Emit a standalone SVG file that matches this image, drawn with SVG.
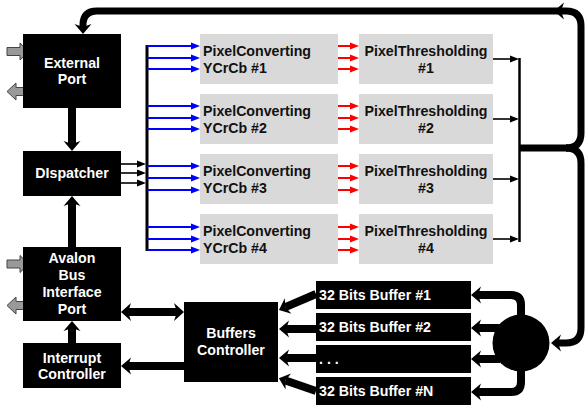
<svg xmlns="http://www.w3.org/2000/svg" width="587" height="408" viewBox="0 0 587 408">
  <style>
    .blk { fill: #000; }
    .gry { fill: #d9d9d9; }
    .wt { fill: #fff; font-family: "Liberation Sans", Arial, sans-serif; font-weight: bold; font-size: 14.2px; text-anchor: middle; }
    .wl { fill: #fff; font-family: "Liberation Sans", Arial, sans-serif; font-weight: bold; font-size: 14.2px; }
    .dk { fill: #111; font-family: "Liberation Sans", Arial, sans-serif; font-weight: bold; font-size: 14.2px; }
    .dkm { fill: #111; font-family: "Liberation Sans", Arial, sans-serif; font-weight: bold; font-size: 14.2px; text-anchor: middle; }
    .io { fill: #999; stroke: #444; stroke-width: 1; }
    .thick { fill: none; stroke: #000; stroke-width: 8; }
    .bus { fill: none; stroke: #000; stroke-width: 7; }
    .blue { fill: none; stroke: #0000ff; stroke-width: 2; marker-end: url(#hb); }
    .red { fill: none; stroke: #ff0000; stroke-width: 2; marker-end: url(#hr); }
    .thin { fill: none; stroke: #000; stroke-width: 1.6; marker-end: url(#hs); }
  </style>
  <defs>
    <!-- notched heads for the wide black links -->
    <marker id="hk" markerUnits="userSpaceOnUse" markerWidth="14" markerHeight="20" viewBox="0 -10 14 20" refX="3" refY="0" orient="auto">
      <path d="M0,-8.5 L10,0 L0,8.5 L3,0 Z" fill="#000"/>
    </marker>
    <marker id="hks" markerUnits="userSpaceOnUse" markerWidth="14" markerHeight="20" viewBox="0 -10 14 20" refX="3" refY="0" orient="auto-start-reverse">
      <path d="M0,-9 L10,0 L0,9 L3,0 Z" fill="#000"/>
    </marker>
    <!-- small heads for the signal lines -->
    <marker id="hb" markerUnits="userSpaceOnUse" markerWidth="10" markerHeight="8" viewBox="0 -4 10 8" refX="3" refY="0" orient="auto">
      <path d="M0,-3.5 L9,0 L0,3.5 Z" fill="#0000ff"/>
    </marker>
    <marker id="hr" markerUnits="userSpaceOnUse" markerWidth="10" markerHeight="8" viewBox="0 -4 10 8" refX="3" refY="0" orient="auto">
      <path d="M0,-3.5 L9,0 L0,3.5 Z" fill="#ff0000"/>
    </marker>
    <marker id="hs" markerUnits="userSpaceOnUse" markerWidth="10" markerHeight="8" viewBox="0 -4 10 8" refX="3" refY="0" orient="auto">
      <path d="M0,-3.5 L9,0 L0,3.5 Z" fill="#000"/>
    </marker>
  </defs>

  <rect width="587" height="408" fill="#fff"/>

  <g id="connectors">
    <!-- feedback bus from the threshold collector back to the external port -->
    <path class="bus" d="M519,148 H568" stroke-width="10"/>
    <path class="bus" d="M566,148 Q581,148 581,133 V26 Q581,11 566,11 H561" marker-end="url(#hk)"/>
    <path class="bus" d="M562,11 H97 Q83,11 83,25 V27" marker-end="url(#hk)"/>
    <path class="bus" d="M566,148 Q581,148 581,163 V328 Q581,343 566,343 H558" marker-end="url(#hk)"/>

    <!-- control column -->
    <path class="thick" d="M72,108 V144" marker-end="url(#hk)"/>
    <path class="thick" d="M72,247 V203" marker-end="url(#hk)"/>
    <path class="thick" d="M72,343 V328" marker-end="url(#hk)"/>
    <path class="thick" d="M128,312 H177" marker-start="url(#hks)" marker-end="url(#hks)"/>
    <path class="thick" d="M184,366 H128" marker-end="url(#hk)"/>

    <!-- buffers into the controller -->
    <path class="thick" d="M316,294 L285.4,307.2" marker-end="url(#hk)"/>
    <path class="thick" d="M316,329 H286" marker-end="url(#hk)"/>
    <path class="thick" d="M316,358 H286" marker-end="url(#hk)"/>
    <path class="thick" d="M316,391 L285.5,380.5" marker-end="url(#hk)"/>

    <!-- demultiplexer into the buffers -->
    <path class="thick" d="M521,316 V305 Q521,295 511,295 H478" marker-end="url(#hk)"/>
    <path class="thick" d="M500,328 H478" marker-end="url(#hk)"/>
    <path class="thick" d="M500,359 H478" marker-end="url(#hk)"/>
    <path class="thick" d="M521,370 V382 Q521,392 511,392 H478" marker-end="url(#hk)"/>

    <!-- dispatcher fan-out -->
    <path class="thin" d="M121,164 H140"/>
    <path class="thin" d="M121,173 H140"/>
    <path class="thin" d="M121,183 H140"/>
    <line x1="147" y1="45" x2="147" y2="251" stroke="#000" stroke-width="3"/>

    <g>
      <path class="blue" d="M147,46 H194"/>
      <path class="blue" d="M147,58 H194"/>
      <path class="blue" d="M147,69 H194"/>
      <path class="blue" d="M147,106 H194"/>
      <path class="blue" d="M147,118 H194"/>
      <path class="blue" d="M147,129 H194"/>
      <path class="blue" d="M147,166 H194"/>
      <path class="blue" d="M147,178 H194"/>
      <path class="blue" d="M147,190 H194"/>
      <path class="blue" d="M147,227 H194"/>
      <path class="blue" d="M147,239 H194"/>
      <path class="blue" d="M147,250 H194"/>
    </g>
    <g>
      <path class="red" d="M338,46 H353"/>
      <path class="red" d="M338,58 H353"/>
      <path class="red" d="M338,69 H353"/>
      <path class="red" d="M338,106 H353"/>
      <path class="red" d="M338,118 H353"/>
      <path class="red" d="M338,129 H353"/>
      <path class="red" d="M338,166 H353"/>
      <path class="red" d="M338,178 H353"/>
      <path class="red" d="M338,190 H353"/>
      <path class="red" d="M338,227 H353"/>
      <path class="red" d="M338,239 H353"/>
      <path class="red" d="M338,250 H353"/>
    </g>
    <path class="thin" d="M493,59 H513"/>
    <path class="thin" d="M493,119 H513"/>
    <path class="thin" d="M493,179 H513"/>
    <path class="thin" d="M493,239 H513"/>
    <line x1="519.5" y1="58" x2="519.5" y2="242" stroke="#000" stroke-width="2.5"/>

    <!-- off-chip I/O arrows -->
    <polygon class="io" points="7,47.5 20,47.5 20,43 29,51.5 20,60 20,55.5 7,55.5"/>
    <polygon class="io" points="29,87.5 16,87.5 16,83 7,91.5 16,100 16,95.5 29,95.5"/>
    <polygon class="io" points="7,260 20,260 20,255.5 29,264 20,272.5 20,268 7,268"/>
    <polygon class="io" points="29,301.5 16,301.5 16,297 7,305.5 16,314 16,309.5 29,309.5"/>
  </g>

  <g id="external-port">
    <rect class="blk" x="23" y="34" width="98" height="74"/>
    <text class="wt" x="72" y="68">External</text>
    <text class="wt" x="72" y="84">Port</text>
  </g>
  <g id="dispatcher">
    <rect class="blk" x="23" y="151" width="98" height="45"/>
    <text class="wt" x="72" y="178">DIspatcher</text>
  </g>
  <g id="avalon">
    <rect class="blk" x="23" y="247" width="98" height="74"/>
    <text class="wt" x="72" y="263">Avalon</text>
    <text class="wt" x="72" y="280">Bus</text>
    <text class="wt" x="72" y="297">Interface</text>
    <text class="wt" x="72" y="314">Port</text>
  </g>
  <g id="interrupt-controller">
    <rect class="blk" x="23" y="343" width="98" height="45"/>
    <text class="wt" x="72" y="363">Interrupt</text>
    <text class="wt" x="72" y="379">Controller</text>
  </g>
  <g id="buffers-controller">
    <rect class="blk" x="184" y="302" width="94" height="80"/>
    <text class="wt" x="231" y="338">Buffers</text>
    <text class="wt" x="231" y="355">Controller</text>
  </g>

  <g id="pc1"><rect class="gry" x="200" y="34" width="138" height="50"/><text class="dk" x="203" y="56">PixelConverting</text><text class="dk" x="203" y="73">YCrCb #1</text></g>
  <g id="pc2"><rect class="gry" x="200" y="94" width="138" height="50"/><text class="dk" x="203" y="116">PixelConverting</text><text class="dk" x="203" y="133">YCrCb #2</text></g>
  <g id="pc3"><rect class="gry" x="200" y="154" width="138" height="50"/><text class="dk" x="203" y="176">PixelConverting</text><text class="dk" x="203" y="193">YCrCb #3</text></g>
  <g id="pc4"><rect class="gry" x="200" y="214" width="138" height="50"/><text class="dk" x="203" y="236">PixelConverting</text><text class="dk" x="203" y="253">YCrCb #4</text></g>

  <g id="pt1"><rect class="gry" x="359" y="34" width="134" height="50"/><text class="dkm" x="426" y="56">PixelThresholding</text><text class="dkm" x="426" y="73">#1</text></g>
  <g id="pt2"><rect class="gry" x="359" y="94" width="134" height="50"/><text class="dkm" x="426" y="116">PixelThresholding</text><text class="dkm" x="426" y="133">#2</text></g>
  <g id="pt3"><rect class="gry" x="359" y="154" width="134" height="50"/><text class="dkm" x="426" y="176">PixelThresholding</text><text class="dkm" x="426" y="193">#3</text></g>
  <g id="pt4"><rect class="gry" x="359" y="214" width="134" height="50"/><text class="dkm" x="426" y="236">PixelThresholding</text><text class="dkm" x="426" y="253">#4</text></g>

  <g id="buffer1"><rect class="blk" x="316" y="281" width="155" height="28"/><text class="wl" x="319" y="300">32 Bits Buffer #1</text></g>
  <g id="buffer2"><rect class="blk" x="316" y="313" width="155" height="28"/><text class="wl" x="319" y="332">32 Bits Buffer #2</text></g>
  <g id="buffer3"><rect class="blk" x="316" y="345" width="155" height="28"/><text class="wl" x="319" y="364">. . .</text></g>
  <g id="bufferN"><rect class="blk" x="316" y="377" width="155" height="28"/><text class="wl" x="319" y="396">32 Bits Buffer #N</text></g>

  <g id="demux">
    <circle class="blk" cx="521" cy="343" r="28.5"/>
  </g>
</svg>
